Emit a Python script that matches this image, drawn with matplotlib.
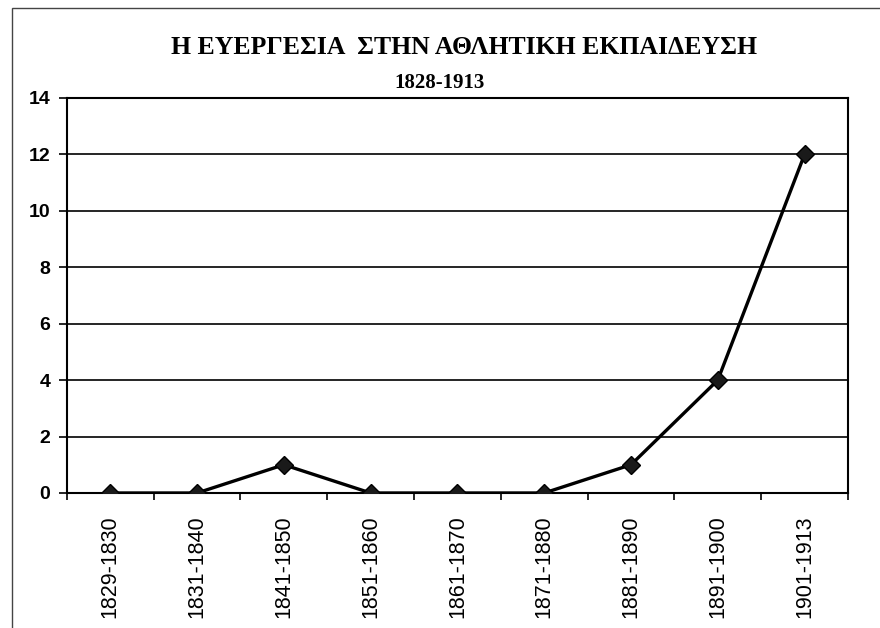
import matplotlib
matplotlib.use("Agg")
import matplotlib.pyplot as plt
from matplotlib.patches import Rectangle

periods = ["1829-1830", "1831-1840", "1841-1850", "1851-1860", "1861-1870",
           "1871-1880", "1881-1890", "1891-1900", "1901-1913"]
counts = [0, 0, 1, 0, 0, 0, 1, 4, 12]
y_ticks = [0, 2, 4, 6, 8, 10, 12, 14]

title_line1 = "Η ΕΥΕΡΓΕΣΙΑ  ΣΤΗΝ ΑΘΛΗΤΙΚΗ ΕΚΠΑΙΔΕΥΣΗ"
title_line2 = "1828-1913"

fig = plt.figure(figsize=(8.8, 6.28), dpi=100)
ax = fig.add_axes([0.076, 0.215, 0.8876, 0.629])

x = list(range(len(periods)))
ax.plot(x, counts, color="black", lw=2.4, marker="D", ms=9,
        markerfacecolor="#1a1a1a", markeredgecolor="black", zorder=3)

ax.set_xlim(-0.5, len(periods) - 0.5)
ax.set_ylim(0, 14)
ax.set_yticks(y_ticks)
ax.set_yticklabels([str(v) for v in y_ticks], fontsize=14, fontweight="bold",
                   family="Liberation Sans")
ax.yaxis.grid(True, color="black", lw=1.2)
ax.set_axisbelow(True)

# category labels centred, tick marks between categories
ax.set_xticks(x)
ax.set_xticklabels(periods, rotation=90, fontsize=15.5, family="Liberation Sans")
ax.tick_params(axis="x", length=0, pad=16)
ax.set_xticks([i - 0.5 for i in range(len(periods) + 1)], minor=True)
ax.tick_params(axis="x", which="minor", length=5, width=1.2, direction="out")
ax.tick_params(axis="y", length=6, width=1.2, direction="out", pad=6)

for side in ["left", "right", "bottom", "top"]:
    ax.spines[side].set_linewidth(1.5)
    ax.spines[side].set_color("black")

fig.text(0.527, 0.925, title_line1, ha="center", va="center", fontsize=18.5,
         fontweight="bold", family="Liberation Serif")
fig.text(0.5, 0.868, title_line2, ha="center", va="center", fontsize=15,
         fontweight="bold", family="Liberation Serif")

# outer chart frame
fig.patches.append(Rectangle((12 / 880, -0.05), 1.2, 1.05 - 8 / 628,
                             transform=fig.transFigure, fill=False,
                             edgecolor="#444444", lw=1.0))

fig.savefig("out.png", dpi=100)
